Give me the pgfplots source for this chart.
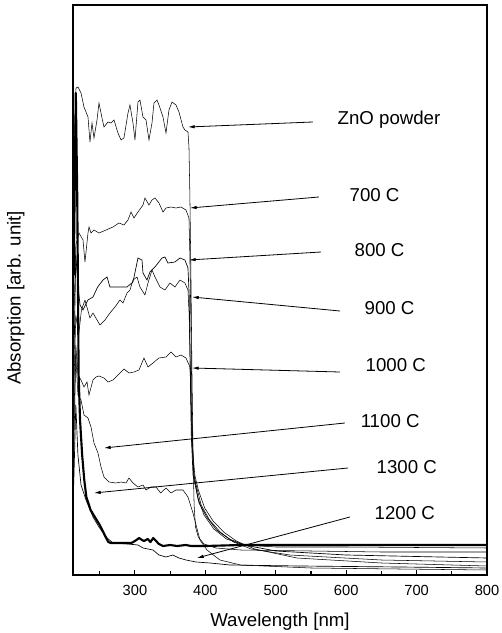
\documentclass[border=0pt]{standalone}
\usepackage{fontspec}
\setmainfont{Liberation Sans}
\usepackage{pgfplots}
\pgfplotsset{compat=1.18}
\usetikzlibrary{arrows.meta}

\begin{document}
\begin{tikzpicture}
\begin{axis}[
    name=ax,
    scale only axis,
    width=310.5pt, height=427.5pt,
    xmin=212, xmax=800, ymin=0, ymax=570,
    axis line style={line width=1.1pt},
    xtick={300,400,...,800},
    minor xtick={250,350,...,750},
    xtick pos=bottom, tick align=inside,
    major tick length=4pt, minor tick length=3pt,
    every tick/.style={black, line width=0.8pt},
    ytick=\empty,
    /pgf/number format/assume math mode=true,
    xticklabel style={font=\fontsize{11}{13}\selectfont, yshift=-4.5pt},
    xlabel={Wavelength [nm]},
    ylabel={Absorption [arb. unit]},
    label style={font=\fontsize{14}{16}\selectfont},
    xlabel style={at={(axis description cs:0.5,-0.082)}, anchor=center},
    ylabel style={at={(axis description cs:-0.138,0.486)}, anchor=center},
    cycle list={{black, no marks, line width=0.5pt, line join=round}},
]

% ZnO powder
\addplot coordinates {
(213,420) (216.3,487) (219.1,488) (223.4,482) (227.6,468) (233.3,458) (236.1,433) (239,452)
(241.8,437) (246.1,455) (248.9,472) (253.2,457) (256,448) (261.7,453) (266,452) (270.2,455)
(275.9,442) (280.2,435) (284.4,437) (290.1,462) (292.9,470) (297.2,452) (300,435) (304.3,473)
(307.1,475) (311.4,458) (315.7,455) (319.9,435) (324.2,452) (327,472) (331.3,475) (334.1,470)
(339.8,458) (344.1,442) (348.3,465) (352.6,473) (358.3,470) (362.5,463) (368.2,448) (371,445)
(375.3,443) (376.7,428) (378,380) (379.5,300) (381,200) (382.5,120) (384,70) (386,48) (390,38)
(398,31) (415,27) (450,25) (550,24) (650,23) (800,23)
};

% 700 C
\addplot coordinates {
(213,250) (216,330) (220.5,342) (226.2,335) (229,313) (233.3,342) (234.7,348) (237.6,342)
(241.8,345) (248.9,342) (258.9,345) (268.8,348) (277.3,352) (284.4,350) (290.1,355) (294.4,363)
(298.6,357) (304.3,363) (311.4,370) (314.2,377) (319.9,370) (324.2,375) (328.4,377) (334.1,372)
(339.8,363) (344.1,367) (351.2,368) (358.3,367) (365.4,368) (372.5,365) (376.7,357) (378,320)
(379.5,250) (381,160) (383,105) (389,78) (398,60) (412,46) (430,36) (455,30) (500,28) (600,28) (800,27)
};

% 800 C
\addplot coordinates {
(213,200) (216,320) (219,290) (222,270) (226.2,265) (233.3,275) (240.4,278) (247,288)
(254.6,295) (260.3,298) (264.5,288) (278.7,288) (288.7,288) (297.2,293) (304.3,317) (310,315)
(311.4,302) (317.1,295) (321.3,303) (328.4,308) (338.4,317) (342.6,318) (346.9,312) (356.8,313)
(363.9,317) (371,315) (375.3,307) (377,280) (378.5,210) (380,140) (382.5,100) (391,72) (402,58)
(416,45) (434,36) (455,30) (500,24) (600,20) (800,17)
};

% 900 C
\addplot coordinates {
(213,180) (216,260) (220,240) (224,265) (229,275) (236.1,257) (240.4,262) (250.3,250)
(257.4,255) (264.5,262) (271.6,268) (278.7,275) (283,272) (288.7,282) (292.9,285) (297.2,295)
(302.9,298) (307.1,288) (314.2,280) (318.5,292) (324.2,305) (328.4,298) (335.5,288) (342.6,285)
(349.7,292) (356.8,288) (363.9,295) (371,292) (375.3,285) (377,260) (379,190) (381,130) (384,98)
(394,70) (406,55) (421,43) (440,33) (465,26) (520,20) (650,15) (800,13)
};

% 1000 C
\addplot coordinates {
(213,150) (216,230) (219,200) (223.4,195) (227.6,188) (231.9,193) (234.7,180) (240.4,195)
(244.7,198) (248.9,199) (256,197) (261.7,193) (268.8,195) (275.9,200) (284.4,206) (291.5,202)
(298.6,203) (305.7,205) (312.8,217) (318.5,208) (325.6,212) (334.1,217) (344.1,218) (351.2,223)
(358.3,218) (365.4,220) (372.5,217) (378.1,208) (380,170) (382,125) (385,100) (390,85) (399,67)
(411,54) (426,43) (444,34) (470,26) (530,17) (650,12) (800,9)
};

% 1100 C
\addplot[black, line width=0.4pt, line join=round] coordinates {
(213,120) (216,220) (219,180) (223.4,175) (227.6,160) (233.3,157) (237.6,148) (241.8,132)
(247.5,122) (251.8,108) (256,98) (263.1,93) (273.1,92) (280.2,93) (287.3,92) (291.5,97)
(297.2,92) (304.3,88) (311.4,90) (315.7,85) (322.8,88) (329.9,88) (336.5,82) (344.1,87)
(351.2,82) (358.3,85) (368.2,85) (375.3,78) (382.4,62) (392.3,35) (402.3,25) (420.7,15)
(450,10) (550,7) (800,5)
};

% 1200 C
\addplot coordinates {
(213,90) (216,170) (219,120) (223.4,90) (230.5,75) (240.4,58) (248.9,48) (258.9,38)
(268.8,32) (290,31) (304.3,30) (311.4,27) (325.6,25) (334.1,20) (344.1,18) (354,20)
(362.5,17) (372.5,15) (386.7,13) (406.5,12) (434.9,10) (534.3,9) (676.3,8) (800,7)
};

% 1300 C (thick)
\addplot[black, line width=1.6pt, line join=round] coordinates {
(213,300) (216,482) (218,380) (220,200) (222,155) (225,120) (228,95) (231,78) (237,65)
(243,58) (250,50) (257,40) (262,33) (266,32) (280,32) (295,32) (300,34) (306,37) (310,35)
(313,34) (318,36) (322,33) (326,37) (330,34) (334,31) (340,29) (350,30) (360,29) (372,30)
(380,29) (400,29) (450,30) (500,30) (600,30) (700,30) (800,30)
};

% labels and arrows
\tikzset{lab/.style={anchor=west, font=\fontsize{14}{16}\selectfont},
         arr/.style={-{Latex[length=5pt,width=2.6pt]}, line width=0.6pt}}
\draw[arr] (axis cs:552.8,453) -- (axis cs:375.3,448);
\draw[arr] (axis cs:561.3,378) -- (axis cs:378.1,367);
\draw[arr] (axis cs:564.2,323) -- (axis cs:376.7,315);
\draw[arr] (axis cs:591.1,264) -- (axis cs:381,278);
\draw[arr] (axis cs:591.1,203) -- (axis cs:381,207);
\draw[arr] (axis cs:598.2,152) -- (axis cs:256,127);
\draw[arr] (axis cs:602.5,107) -- (axis cs:241.8,82);
\draw[arr] (axis cs:605.3,58) -- (axis cs:388.1,17);
\node[lab] at (axis cs:581.2,455) {ZnO powder};
\node[lab] at (axis cs:598.2,380) {700 C};
\node[lab] at (axis cs:605.3,325) {800 C};
\node[lab] at (axis cs:619.5,267) {900 C};
\node[lab] at (axis cs:621,210) {1000 C};
\node[lab] at (axis cs:614,154) {1100 C};
\node[lab] at (axis cs:636.6,108) {1300 C};
\node[lab] at (axis cs:633.7,62) {1200 C};
\end{axis}
\pgfresetboundingbox
\path ([shift={(-54.75pt,-43.5pt)}]ax.south west) rectangle ([shift={(10.5pt,3.75pt)}]ax.north east);
\end{tikzpicture}
\end{document}
